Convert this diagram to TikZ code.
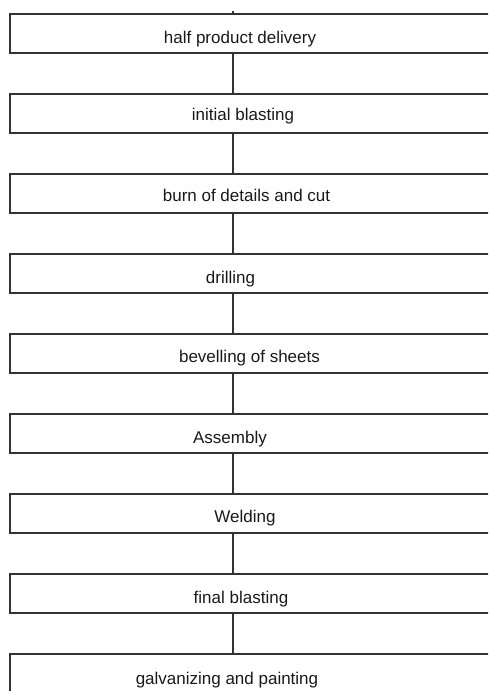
\documentclass[tikz,border=0pt]{standalone}
\usepackage{fontspec}
\setmainfont{Liberation Sans}
\begin{document}
\begin{tikzpicture}[x=1pt,y=-1pt,
  boxstyle/.style={draw=black!80, line width=1.8pt, minimum width=490pt, minimum height=39pt, inner sep=0pt, outer sep=0pt, anchor=north west},
  lbl/.style={anchor=base, inner sep=0pt, font=\fontsize{17}{20}\selectfont, text=black!90},
  conn/.style={draw=black!80, line width=1.8pt}]
\useasboundingbox (0,0) rectangle (488,691);
\clip (0,0) rectangle (488,691);
\coordinate (col) at (233,0);
\foreach \n/\t/\cx/\dy in {
  1/half product delivery/240/29,
  2/initial blasting/243/26,
  3/burn of details and cut/246.5/27,
  4/drilling/230.5/29,
  5/bevelling of sheets/249.5/28,
  6/Assembly/230/29,
  7/Welding/245/28,
  8/final blasting/241/29,
  9/galvanizing and painting/227/30}{
  \node[boxstyle] (b\n) at (10,{14+80*(\n-1)}) {};
  \node[lbl] (t\n) at (\cx,{14+80*(\n-1)+\dy}) {\t};
}
\foreach \a/\b in {1/2,2/3,3/4,4/5,5/6,6/7,7/8,8/9}
  \draw[conn] (b\a.south -| col) -- (b\b.north -| col);
\coordinate (topend) at (233,11);
\draw[conn] (topend) -- (b1.north -| col);
\end{tikzpicture}
\end{document}
